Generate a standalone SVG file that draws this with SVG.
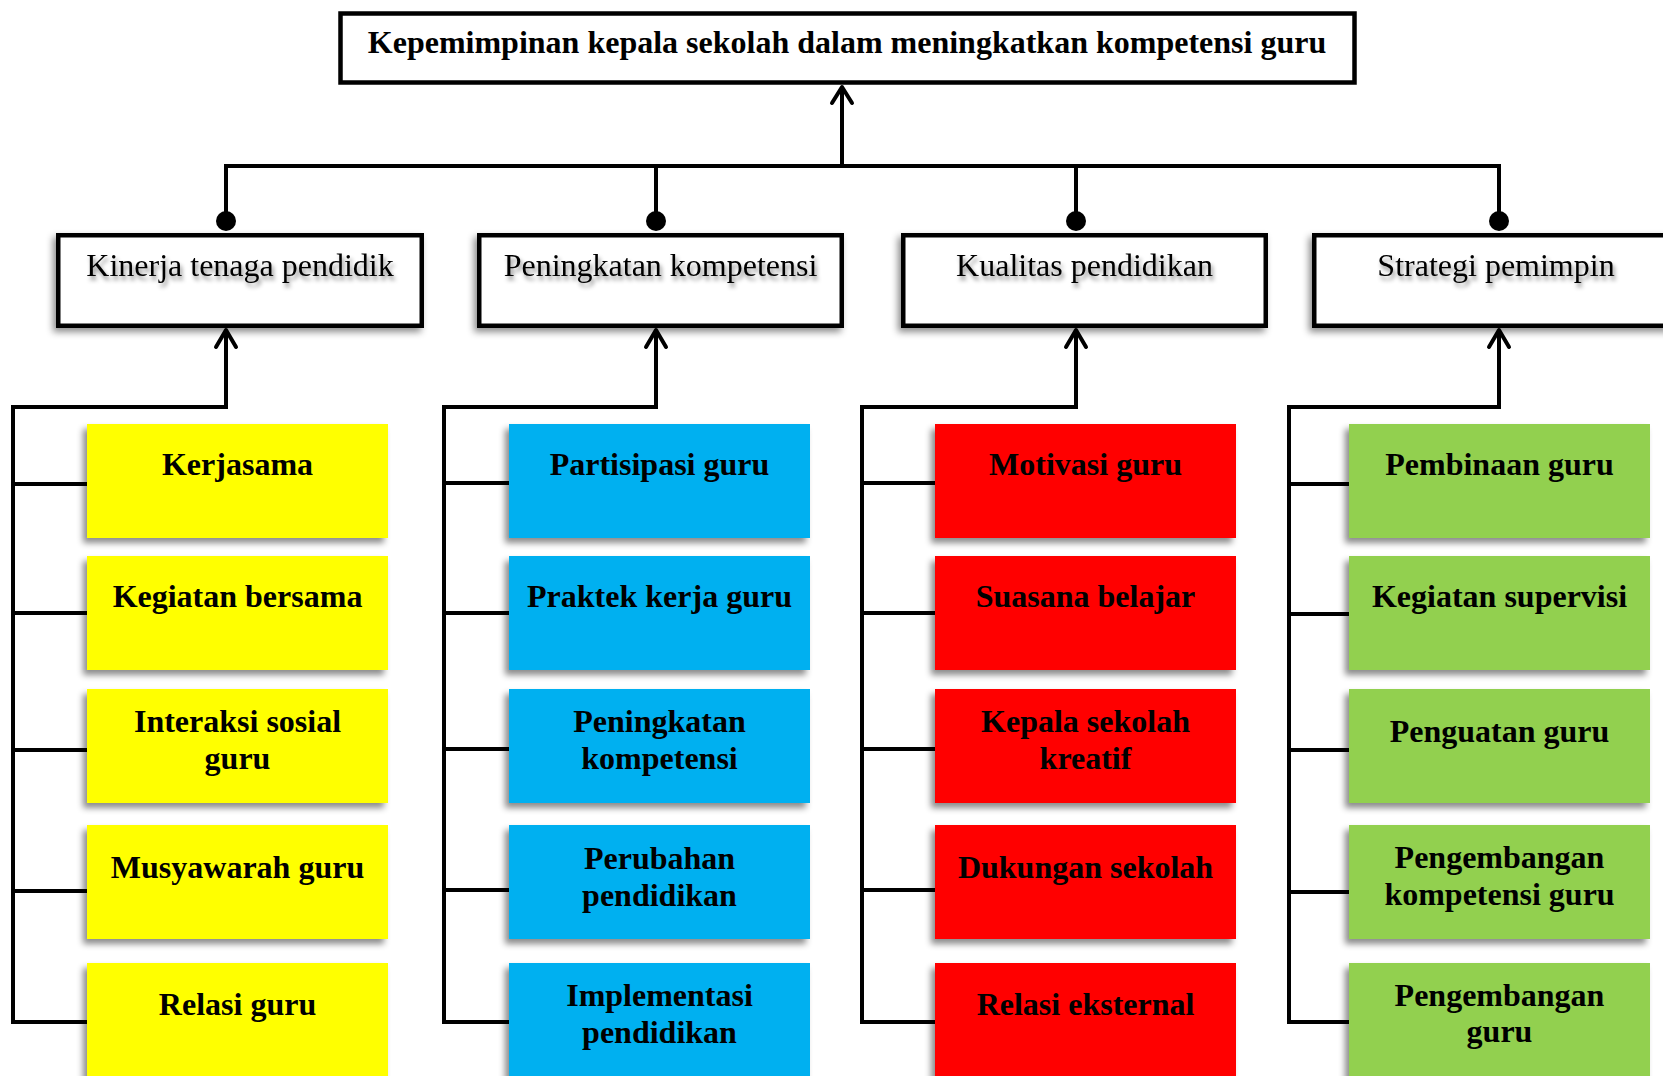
<svg xmlns="http://www.w3.org/2000/svg" width="1663" height="1076" viewBox="0 0 1663 1076">
<defs>
<filter id="boxShadow" x="-10%" y="-20%" width="120%" height="150%">
<feDropShadow dx="-3" dy="4" stdDeviation="3.5" flood-color="#000" flood-opacity="0.45"/>
</filter>
<filter id="cardShadow" x="-10%" y="-10%" width="120%" height="130%">
<feDropShadow dx="-4" dy="5" stdDeviation="3" flood-color="#000" flood-opacity="0.45"/>
</filter>
<filter id="textShadow" x="-5%" y="-30%" width="110%" height="170%">
<feDropShadow dx="2" dy="4" stdDeviation="2" flood-color="#000" flood-opacity="0.45"/>
</filter>
</defs>
<style>
.frame{fill:#fff;stroke:#000;stroke-width:4.5}
.cat{filter:url(#boxShadow)}
.card{filter:url(#cardShadow)}
.title{font-family:"Liberation Serif","Times New Roman",serif;font-weight:bold;font-size:32px;text-anchor:middle;fill:#000}
.catText{font-family:"Liberation Serif","Times New Roman",serif;font-size:32px;text-anchor:middle;fill:#000;filter:url(#textShadow)}
.cardText{font-family:"Liberation Serif","Times New Roman",serif;font-weight:bold;font-size:32px;text-anchor:middle;fill:#000}
.yellow{fill:#FFFF00}
.blue{fill:#00B0F0}
.red{fill:#FF0000}
.green{fill:#92D050}
.line{fill:none;stroke:#000;stroke-width:4}
.head{fill:none;stroke:#000;stroke-width:4;stroke-linecap:round;stroke-linejoin:round}
.dot{fill:#000}
</style>
<rect width="1663" height="1076" fill="#fff"/>

<g id="connectors">
<path class="line" d="M226 166 H1499"/>
<path class="line" d="M842 166 V87"/>
<path class="head" d="M832 103 L842 87 L852 103"/>
<path class="line" d="M226 164 V220"/>
<path class="line" d="M656 164 V220"/>
<path class="line" d="M1076 164 V220"/>
<path class="line" d="M1499 164 V220"/>
<circle class="dot" cx="226" cy="221" r="10"/>
<circle class="dot" cx="656" cy="221" r="10"/>
<circle class="dot" cx="1076" cy="221" r="10"/>
<circle class="dot" cx="1499" cy="221" r="10"/>

<path class="line" d="M226 330 V407 H13 V1022 H90"/>
<path class="line" d="M13 484 H90 M13 613 H90 M13 750 H90 M13 891 H90"/>
<path class="head" d="M216 347 L226 330 L236 347"/>

<path class="line" d="M656 330 V407 H444 V1022 H512"/>
<path class="line" d="M444 483 H512 M444 613 H512 M444 749 H512 M444 890 H512"/>
<path class="head" d="M646 347 L656 330 L666 347"/>

<path class="line" d="M1076 330 V407 H862 V1022 H938"/>
<path class="line" d="M862 483 H938 M862 613 H938 M862 749 H938 M862 890 H938"/>
<path class="head" d="M1066 347 L1076 330 L1086 347"/>

<path class="line" d="M1499 330 V407 H1289 V1022 H1352"/>
<path class="line" d="M1289 484 H1352 M1289 614 H1352 M1289 750 H1352 M1289 892 H1352"/>
<path class="head" d="M1489 347 L1499 330 L1509 347"/>
</g>

<g id="root">
<rect class="frame" x="340.5" y="13.5" width="1014" height="69"/>
<text class="title" x="847" y="53">Kepemimpinan kepala sekolah dalam meningkatkan kompetensi guru</text>
</g>

<g id="cat-kinerja">
<rect class="frame cat" x="58.25" y="235.25" width="363.5" height="90.5"/>
<text class="catText" x="240" y="276">Kinerja tenaga pendidik</text>
</g>
<g id="cat-peningkatan">
<rect class="frame cat" x="479.25" y="235.25" width="362.5" height="90.5"/>
<text class="catText" x="660.5" y="276">Peningkatan kompetensi</text>
</g>
<g id="cat-kualitas">
<rect class="frame cat" x="903.25" y="235.25" width="362.5" height="90.5"/>
<text class="catText" x="1084.5" y="276">Kualitas pendidikan</text>
</g>
<g id="cat-strategi">
<rect class="frame cat" x="1314.25" y="235.25" width="363.5" height="90.5"/>
<text class="catText" x="1496" y="276">Strategi pemimpin</text>
</g>

<g id="n-kerjasama"><rect class="yellow card" x="87" y="424" width="301" height="114"/><text class="cardText" x="237.5" y="475">Kerjasama</text></g>
<g id="n-kegiatan-bersama"><rect class="yellow card" x="87" y="556" width="301" height="114"/><text class="cardText" x="237.5" y="607">Kegiatan bersama</text></g>
<g id="n-interaksi"><rect class="yellow card" x="87" y="689" width="301" height="114"/><text class="cardText" x="237.5" y="732">Interaksi sosial</text><text class="cardText" x="237.5" y="769">guru</text></g>
<g id="n-musyawarah"><rect class="yellow card" x="87" y="825" width="301" height="114"/><text class="cardText" x="237.5" y="878">Musyawarah guru</text></g>
<g id="n-relasi-guru"><rect class="yellow card" x="87" y="963" width="301" height="116"/><text class="cardText" x="237.5" y="1015">Relasi guru</text></g>

<g id="n-partisipasi"><rect class="blue card" x="509" y="424" width="301" height="114"/><text class="cardText" x="659.5" y="475">Partisipasi guru</text></g>
<g id="n-praktek"><rect class="blue card" x="509" y="556" width="301" height="114"/><text class="cardText" x="659.5" y="607">Praktek kerja guru</text></g>
<g id="n-peningkatan-kompetensi"><rect class="blue card" x="509" y="689" width="301" height="114"/><text class="cardText" x="659.5" y="732">Peningkatan</text><text class="cardText" x="659.5" y="769">kompetensi</text></g>
<g id="n-perubahan"><rect class="blue card" x="509" y="825" width="301" height="114"/><text class="cardText" x="659.5" y="869">Perubahan</text><text class="cardText" x="659.5" y="906">pendidikan</text></g>
<g id="n-implementasi"><rect class="blue card" x="509" y="963" width="301" height="116"/><text class="cardText" x="659.5" y="1006">Implementasi</text><text class="cardText" x="659.5" y="1043">pendidikan</text></g>

<g id="n-motivasi"><rect class="red card" x="935" y="424" width="301" height="114"/><text class="cardText" x="1085.5" y="475">Motivasi guru</text></g>
<g id="n-suasana"><rect class="red card" x="935" y="556" width="301" height="114"/><text class="cardText" x="1085.5" y="607">Suasana belajar</text></g>
<g id="n-kepala-kreatif"><rect class="red card" x="935" y="689" width="301" height="114"/><text class="cardText" x="1085.5" y="732">Kepala sekolah</text><text class="cardText" x="1085.5" y="769">kreatif</text></g>
<g id="n-dukungan"><rect class="red card" x="935" y="825" width="301" height="114"/><text class="cardText" x="1085.5" y="878">Dukungan sekolah</text></g>
<g id="n-relasi-eksternal"><rect class="red card" x="935" y="963" width="301" height="116"/><text class="cardText" x="1085.5" y="1015">Relasi eksternal</text></g>

<g id="n-pembinaan"><rect class="green card" x="1349" y="424" width="301" height="114"/><text class="cardText" x="1499.5" y="475">Pembinaan guru</text></g>
<g id="n-supervisi"><rect class="green card" x="1349" y="556" width="301" height="114"/><text class="cardText" x="1499.5" y="607">Kegiatan supervisi</text></g>
<g id="n-penguatan"><rect class="green card" x="1349" y="689" width="301" height="114"/><text class="cardText" x="1499.5" y="742">Penguatan guru</text></g>
<g id="n-pengembangan-kompetensi"><rect class="green card" x="1349" y="825" width="301" height="114"/><text class="cardText" x="1499.5" y="868">Pengembangan</text><text class="cardText" x="1499.5" y="905">kompetensi guru</text></g>
<g id="n-pengembangan-guru"><rect class="green card" x="1349" y="963" width="301" height="116"/><text class="cardText" x="1499.5" y="1006">Pengembangan</text><text class="cardText" x="1499.5" y="1042">guru</text></g>
</svg>
